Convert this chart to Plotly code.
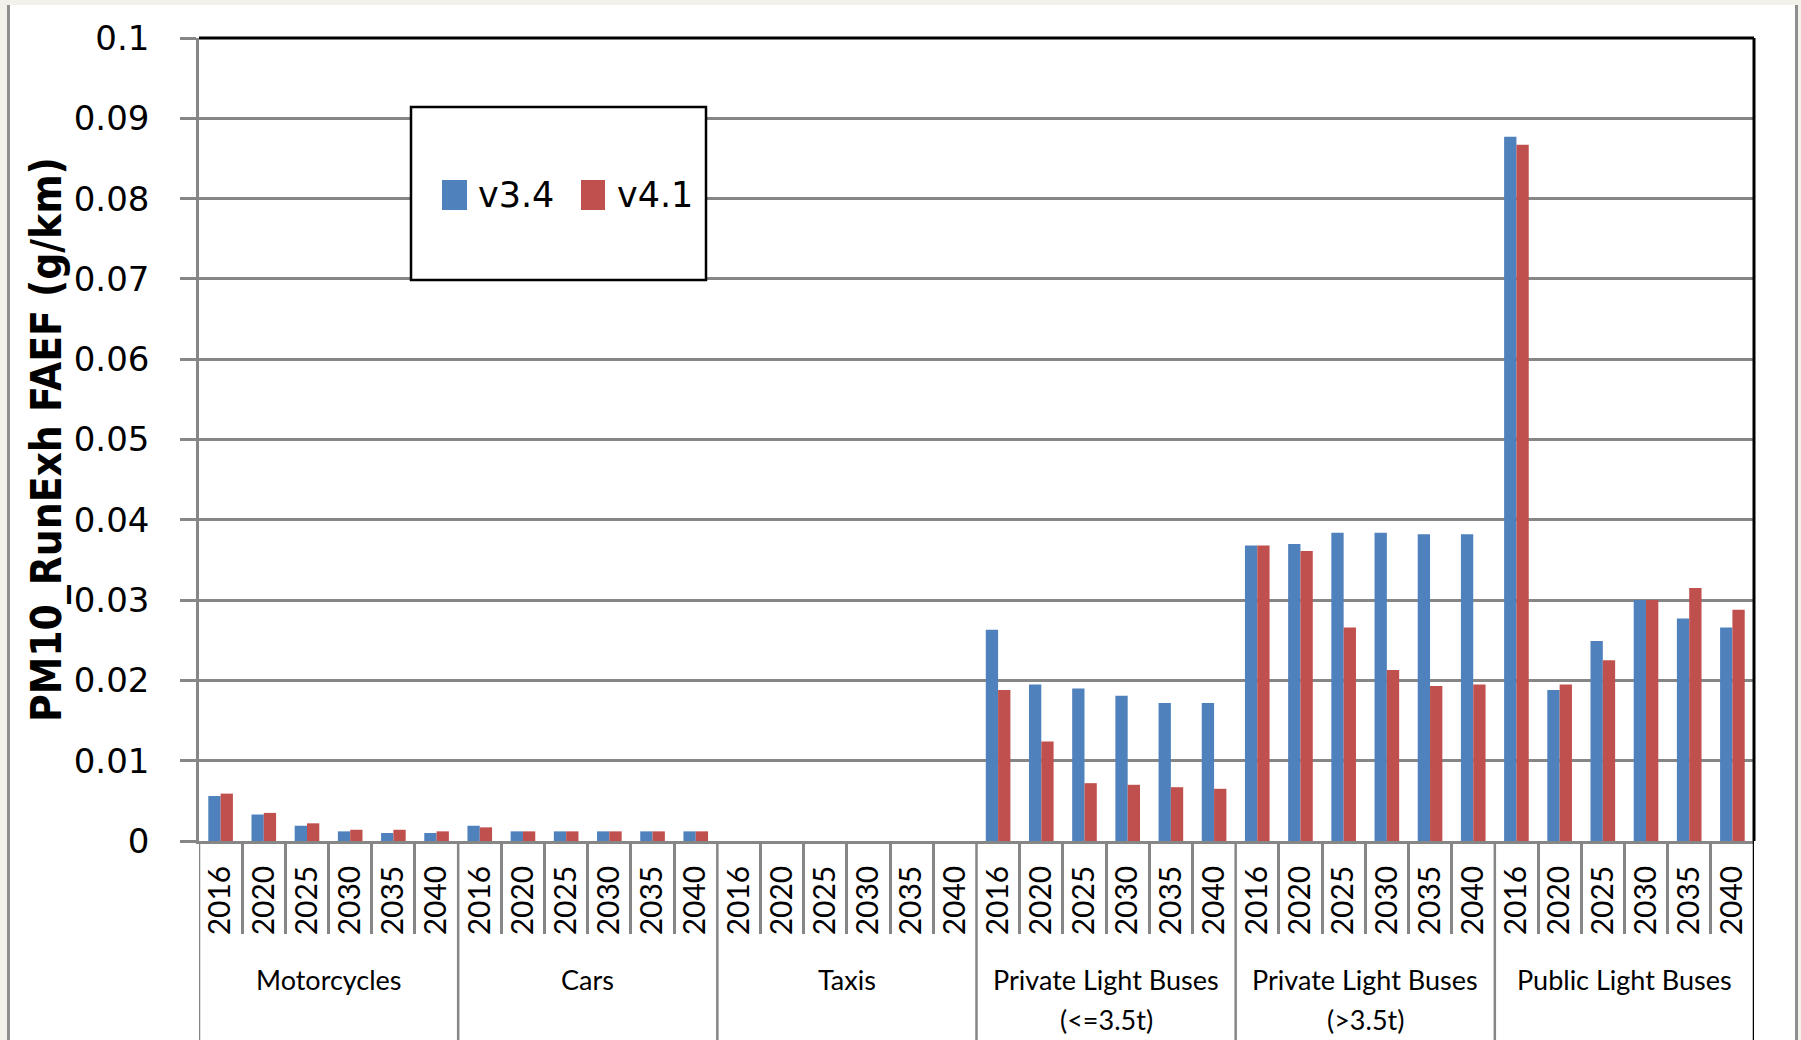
import plotly.graph_objects as go

# ---- data ----
groups = ["Motorcycles", "Cars", "Taxis", "Private Light Buses<br>(<=3.5t)",
          "Private Light Buses<br>(>3.5t)", "Public Light Buses"]
years = ["2016", "2020", "2025", "2030", "2035", "2040"]

v34 = [0.0056, 0.0033, 0.0019, 0.0012, 0.0010, 0.0010,   # Motorcycles
       0.0019, 0.0012, 0.0012, 0.0012, 0.0012, 0.0012,   # Cars
       0.0, 0.0, 0.0, 0.0, 0.0, 0.0,                     # Taxis
       0.0263, 0.0195, 0.0190, 0.0181, 0.0172, 0.0172,   # PLB <=3.5t
       0.0368, 0.0370, 0.0384, 0.0384, 0.0382, 0.0382,   # PLB >3.5t
       0.0877, 0.0188, 0.0249, 0.0300, 0.0277, 0.0266]   # Public LB
v41 = [0.0059, 0.0035, 0.0022, 0.0014, 0.0014, 0.0012,
       0.0017, 0.0012, 0.0012, 0.0012, 0.0012, 0.0012,
       0.0, 0.0, 0.0, 0.0, 0.0, 0.0,
       0.0188, 0.0124, 0.0072, 0.0070, 0.0067, 0.0065,
       0.0368, 0.0361, 0.0266, 0.0213, 0.0193, 0.0195,
       0.0867, 0.0195, 0.0225, 0.0300, 0.0315, 0.0288]
series_names = ["v3.4", "v4.1"]
y_ticks = [0, 0.01, 0.02, 0.03, 0.04, 0.05, 0.06, 0.07, 0.08, 0.09, 0.1]
y_ticktext = ["0", "0.01", "0.02", "0.03", "0.04", "0.05", "0.06", "0.07", "0.08", "0.09", "0.1"]
y_title = "PM10_RunExh FAEF (g/km)"

# ---- styling ----
BLUE = "#4F81BD"
RED = "#C0504D"
GRID = "#868686"
BEIGE = "#f2f1ea"

FW, FH = 1801, 1040
L, R, T, B = 199, 1754, 38, 841
PW, PH = R - L, B - T


def px_x(p):
    return (p - L) / PW


def px_y(p):
    return (B - p) / PH


n_years = len(years)
cats = [f"{g}|{y}" for g in groups for y in years]
xs = list(range(len(cats)))
ticktext = [y for g in groups for y in years]

fig = go.Figure()
fig.add_trace(go.Bar(x=xs, y=v34, name=series_names[0], marker=dict(color=BLUE, line=dict(width=0)),
                     showlegend=False))
fig.add_trace(go.Bar(x=xs, y=v41, name=series_names[1], marker=dict(color=RED, line=dict(width=0)),
                     showlegend=False))

shapes = []
# white page frame
shapes.append(dict(type="rect", xref="paper", yref="paper", x0=px_x(10), x1=px_x(1795),
                   y0=px_y(FH + 5), y1=px_y(5), fillcolor="white", line=dict(width=0), layer="below"))
shapes.append(dict(type="line", xref="paper", yref="paper", x0=px_x(8.5), x1=px_x(8.5),
                   y0=px_y(5), y1=px_y(FH + 5), line=dict(color="#8f8f8f", width=3), layer="below"))
shapes.append(dict(type="line", xref="paper", yref="paper", x0=px_x(1796.5), x1=px_x(1796.5),
                   y0=px_y(5), y1=px_y(FH + 5), line=dict(color="#8f8f8f", width=3), layer="below"))

# group dividers below the axis
n = len(cats)
for gi in range(len(groups) + 1):
    xb = gi * n_years - 0.5
    col = "black" if gi == len(groups) else GRID
    shapes.append(dict(type="line", xref="x", yref="paper", x0=xb, x1=xb,
                       y0=0, y1=px_y(FH + 5), line=dict(color=col, width=2.5)))
# top and right black border of plot area
shapes.append(dict(type="line", xref="paper", yref="paper", x0=0, x1=1, y0=1, y1=1,
                   line=dict(color="black", width=3)))
shapes.append(dict(type="line", xref="paper", yref="paper", x0=1, x1=1, y0=0, y1=1,
                   line=dict(color="black", width=3)))

# manual legend
shapes.append(dict(type="rect", xref="paper", yref="paper", x0=px_x(411), x1=px_x(706),
                   y0=px_y(280), y1=px_y(107), fillcolor="white", line=dict(color="black", width=2.5)))
shapes.append(dict(type="rect", xref="paper", yref="paper", x0=px_x(442), x1=px_x(467),
                   y0=px_y(210), y1=px_y(180), fillcolor=BLUE, line=dict(width=0)))
shapes.append(dict(type="rect", xref="paper", yref="paper", x0=px_x(581), x1=px_x(605),
                   y0=px_y(210), y1=px_y(180), fillcolor=RED, line=dict(width=0)))

annotations = [
    dict(text=series_names[0], xref="paper", yref="paper", x=px_x(476), y=px_y(195),
         xanchor="left", yanchor="middle", showarrow=False,
         font=dict(family="DejaVu Sans", size=35, color="black")),
    dict(text=series_names[1], xref="paper", yref="paper", x=px_x(615), y=px_y(195),
         xanchor="left", yanchor="middle", showarrow=False,
         font=dict(family="DejaVu Sans", size=35, color="black")),
    dict(text=f"<b>{y_title}</b>", xref="paper", yref="paper", x=px_x(46), y=px_y(440),
         xanchor="center", yanchor="middle", textangle=-90, showarrow=False,
         font=dict(family="Liberation Sans Narrow, DejaVu Sans Condensed, sans-serif", size=42, color="black")),
]
for gi, g in enumerate(groups):
    center = gi * n_years + (n_years - 1) / 2
    lines = g.split("<br>")
    for li, line in enumerate(lines):
        annotations.append(dict(text=line, xref="x", yref="paper", x=center, y=px_y(979 + 40 * li),
                                xanchor="center", yanchor="middle", showarrow=False,
                                font=dict(family="Lato", size=27, color="black")))

minor_vals = [i + 0.5 for i in range(n - 1) if (i + 1) % n_years != 0]

fig.update_layout(
    width=FW, height=FH,
    margin=dict(l=L, r=FW - R, t=T, b=FH - B),
    paper_bgcolor=BEIGE, plot_bgcolor="white",
    barmode="group", bargap=0.43, bargroupgap=0,
    shapes=shapes, annotations=annotations,
    xaxis=dict(range=[-0.5, n - 0.5], tickvals=xs, ticktext=ticktext, tickangle=-90,
               ticks="", showgrid=False, zeroline=False, showline=True, linecolor=GRID, linewidth=2.5,
               tickfont=dict(family="Lato", size=30, color="black"), ticklabelstandoff=10,
               minor=dict(tickvals=minor_vals, ticks="outside", ticklen=90, tickcolor=GRID, tickwidth=2.5)),
    yaxis=dict(range=[0, 0.1], tickvals=y_ticks, ticktext=y_ticktext, ticks="outside", ticklen=16,
               tickcolor=GRID, tickwidth=2.5, showgrid=True, gridcolor=GRID, gridwidth=2.5,
               zeroline=False, showline=True, linecolor=GRID, linewidth=2.5,
               tickfont=dict(family="DejaVu Sans", size=34, color="black"), ticklabelstandoff=24),
)

post = ("document.body.style.margin='0';document.body.style.background='%s';"
        "document.documentElement.style.background='%s';document.body.style.overflow='hidden';") % (BEIGE, BEIGE)
fig.write_html("out.html", post_script=post, config={"displayModeBar": False})
